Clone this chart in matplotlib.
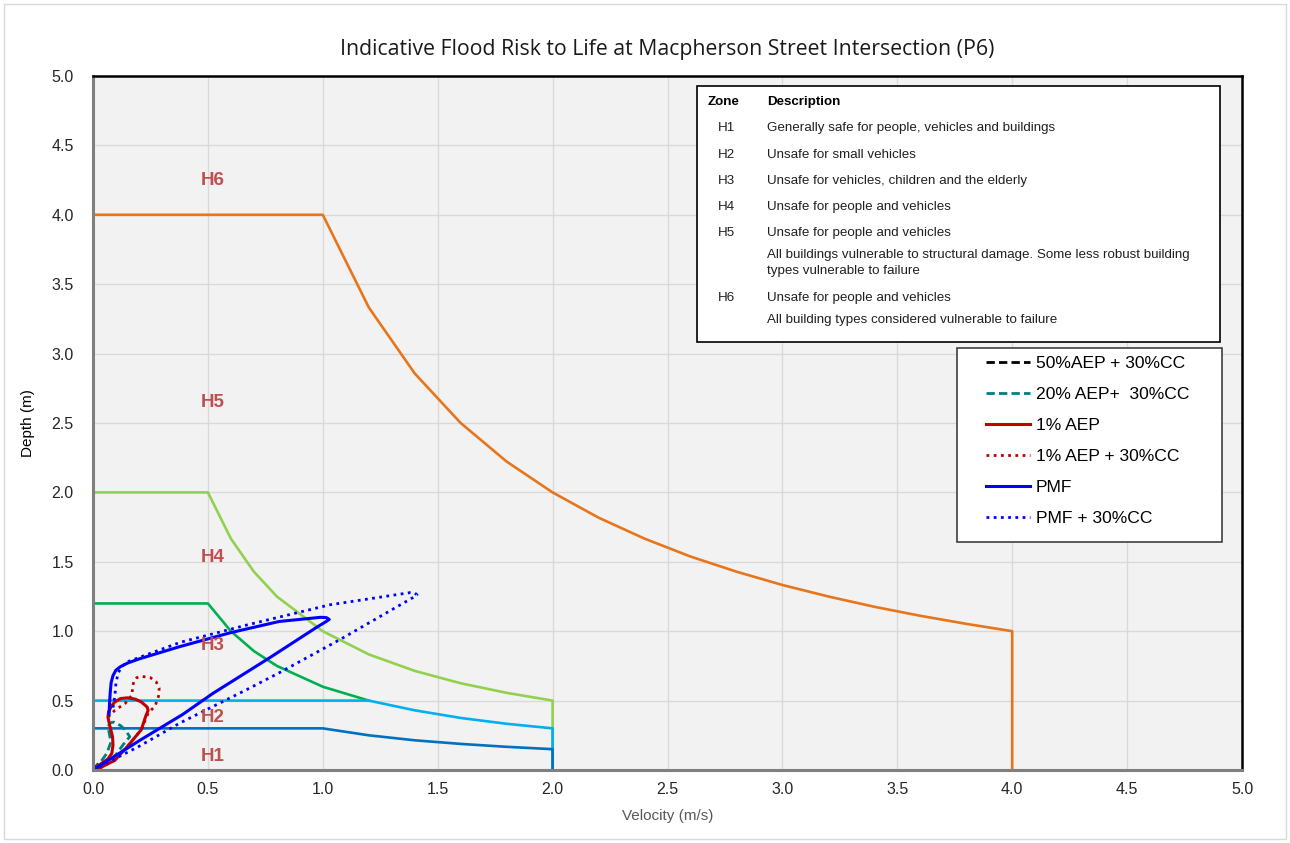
import matplotlib
matplotlib.use('Agg')
import matplotlib.pyplot as plt
from matplotlib.patches import Rectangle

# hazard boundary curves (velocity m/s, depth m)
h1_v = [0.0, 1.0, 1.2, 1.4, 1.6, 1.8, 2.0, 2.0]
h1_d = [0.30, 0.30, 0.25, 0.214, 0.188, 0.167, 0.15, 0.0]
h2_v = [0.0, 1.2, 1.4, 1.6, 1.8, 2.0, 2.0]
h2_d = [0.50, 0.50, 0.43, 0.375, 0.333, 0.30, 0.0]
h3_v = [0.0, 0.5, 0.6, 0.7, 0.8, 1.0, 1.2]
h3_d = [1.20, 1.20, 1.00, 0.857, 0.75, 0.60, 0.50]
h4_v = [0.0, 0.5, 0.6, 0.7, 0.8, 1.0, 1.2, 1.4, 1.6, 1.8, 2.0, 2.0]
h4_d = [2.0, 2.0, 1.667, 1.429, 1.25, 1.0, 0.833, 0.714, 0.625, 0.556, 0.50, 0.0]
h5_v = [0.0, 1.0, 1.2, 1.4, 1.6, 1.8, 2.0, 2.2, 2.4, 2.6, 2.8, 3.0, 3.2, 3.4, 3.6, 3.8, 4.0, 4.0]
h5_d = [4.0, 4.0, 3.333, 2.857, 2.5, 2.222, 2.0, 1.818, 1.667, 1.538, 1.429, 1.333, 1.25, 1.176, 1.111, 1.053, 1.0, 0.0]

# flood event traces
aep50_v = [0.0, 0.01, 0.02, 0.03, 0.02, 0.0]
aep50_d = [0.0, 0.02, 0.04, 0.05, 0.03, 0.0]
aep20_v = [0.0, 0.03, 0.06, 0.078, 0.07, 0.065, 0.075, 0.09, 0.12, 0.14, 0.16, 0.13, 0.10, 0.05, 0.0]
aep20_d = [0.0, 0.05, 0.12, 0.20, 0.27, 0.31, 0.34, 0.345, 0.32, 0.29, 0.24, 0.18, 0.11, 0.04, 0.0]
aep1_v = [0.0, 0.01, 0.035, 0.065, 0.082, 0.087, 0.085, 0.073, 0.065, 0.068, 0.08, 0.095, 0.12, 0.15, 0.185, 0.21, 0.235, 0.24, 0.23, 0.21, 0.15, 0.095, 0.03, 0.0]
aep1_d = [0.0, 0.01, 0.045, 0.08, 0.12, 0.18, 0.24, 0.32, 0.38, 0.42, 0.46, 0.49, 0.515, 0.52, 0.51, 0.49, 0.455, 0.43, 0.39, 0.29, 0.17, 0.07, 0.015, 0.0]
aep1cc_v = [0.065, 0.095, 0.14, 0.17, 0.172, 0.178, 0.19, 0.21, 0.25, 0.275, 0.288, 0.285, 0.27, 0.24, 0.21, 0.15, 0.095, 0.03, 0.0]
aep1cc_d = [0.38, 0.43, 0.48, 0.54, 0.60, 0.64, 0.665, 0.675, 0.665, 0.635, 0.59, 0.53, 0.46, 0.41, 0.29, 0.17, 0.07, 0.015, 0.0]
pmf_v = [0.0, 0.2, 0.39, 0.52, 0.77, 0.975, 1.015, 1.028, 1.015, 0.99, 0.81, 0.60, 0.38, 0.2, 0.15, 0.12, 0.10, 0.087, 0.079, 0.075, 0.072, 0.07]
pmf_d = [0.0, 0.21, 0.40, 0.55, 0.81, 1.03, 1.07, 1.085, 1.098, 1.10, 1.07, 0.99, 0.89, 0.80, 0.77, 0.745, 0.72, 0.68, 0.63, 0.56, 0.48, 0.40]
pmfcc_v = [0.0, 0.2, 0.38, 0.67, 0.81, 1.075, 1.39, 1.41, 1.40, 1.38, 1.03, 0.67, 0.38, 0.2, 0.15, 0.125, 0.11, 0.10, 0.095, 0.087]
pmfcc_d = [0.0, 0.17, 0.34, 0.58, 0.70, 0.94, 1.24, 1.262, 1.275, 1.278, 1.19, 1.045, 0.92, 0.81, 0.78, 0.745, 0.70, 0.63, 0.53, 0.45]

zone_labels = ['H1', 'H2', 'H3', 'H4', 'H5', 'H6']
zone_label_y = [0.10, 0.375, 0.90, 1.53, 2.65, 4.25]

table_zones = ['H1', 'H2', 'H3', 'H4', 'H5', '', '', 'H6', '']
table_desc = ['Generally safe for people, vehicles and buildings',
              'Unsafe for small vehicles',
              'Unsafe for vehicles, children and the elderly',
              'Unsafe for people and vehicles',
              'Unsafe for people and vehicles',
              'All buildings vulnerable to structural damage. Some less robust building',
              'types vulnerable to failure',
              'Unsafe for people and vehicles',
              'All building types considered vulnerable to failure']
table_row_px = [128, 155, 181, 207, 233, 255, 271, 298, 320]

W, H = 1290, 843
fig = plt.figure(figsize=(W / 100, H / 100), dpi=100)
ax = fig.add_axes([93 / W, 1 - 770 / H, (1242 - 93) / W, (770 - 76) / H])
ax.set_facecolor('#F2F2F2')

# hazard curves
ax.plot(h5_v, h5_d, color='#E8751A', lw=1.9)
ax.plot(h4_v, h4_d, color='#92D050', lw=1.9)
ax.plot(h3_v, h3_d, color='#00B050', lw=1.9)
ax.plot(h2_v, h2_d, color='#00B0F0', lw=1.9)
ax.plot(h1_v, h1_d, color='#0070C0', lw=1.9)

# flood traces
ax.plot(aep50_v, aep50_d, color='black', ls=(0, (3, 1.5)), lw=2, label='50%AEP + 30%CC')
ax.plot(aep20_v, aep20_d, color='#00807F', ls=(0, (3, 1.5)), lw=2, label='20% AEP+  30%CC')
ax.plot(aep1_v, aep1_d, color='#C00000', lw=2.2, label='1% AEP')
ax.plot(aep1cc_v, aep1cc_d, color='#C00000', ls=(0, (1, 1.6)), lw=2, label='1% AEP + 30%CC')
ax.plot(pmf_v, pmf_d, color='#0000FF', lw=2.2, label='PMF')
ax.plot(pmfcc_v, pmfcc_d, color='#0000FF', ls=(0, (1, 1.6)), lw=2, label='PMF + 30%CC')

for lab, y in zip(zone_labels, zone_label_y):
    ax.text(0.52, y, lab, color='#C0504D', fontsize=13.5, fontweight='bold',
            ha='center', va='center', family='Liberation Sans')

ax.set_xlim(0, 5)
ax.set_ylim(0, 5)
ax.set_xticks([i * 0.5 for i in range(11)])
ax.set_yticks([i * 0.5 for i in range(11)])
ax.set_xticklabels([f'{i * 0.5:.1f}' for i in range(11)], family='Liberation Sans', fontsize=11.5, color='#262626')
ax.set_yticklabels([f'{i * 0.5:.1f}' for i in range(11)], family='Liberation Sans', fontsize=11.5, color='#262626')
ax.tick_params(axis='y', length=0, pad=14)
ax.tick_params(axis='x', length=0, pad=9)
ax.grid(color='#D9D9D9', lw=1)
ax.set_axisbelow(True)
for s in ['left', 'bottom']:
    ax.spines[s].set_color('#7F7F7F')
    ax.spines[s].set_linewidth(2.2)
for s in ['top', 'right']:
    ax.spines[s].set_color('black')
    ax.spines[s].set_linewidth(1.8)

ax.set_xlabel('Velocity (m/s)', family='Liberation Sans', fontsize=11, color='#595959', labelpad=8)
ax.set_ylabel('Depth (m)', family='Liberation Sans', fontsize=11, color='black', labelpad=12)
fig.text(0.5 * (93 + 1242) / W, 1 - 50 / H, 'Indicative Flood Risk to Life at Macpherson Street Intersection (P6)',
         ha='center', va='center', fontsize=15.3, family='Open Sans', color='#1A1A1A')

# legend frame drawn separately so the entries sit indented like the original
ax.add_patch(Rectangle(((957 - 93) / 1149, (770 - 542) / 694), (1222 - 957) / 1149, (542 - 348) / 694,
                       transform=ax.transAxes, facecolor='white', edgecolor='#404040', lw=1.2, zorder=4.5))
leg = ax.legend(loc='upper left', bbox_to_anchor=((986 - 93) / 1149, (770 - 356) / 694),
                frameon=False, prop={'family': 'Liberation Sans', 'size': 12.6},
                handlelength=2.5, handletextpad=0.35, labelspacing=0.9,
                borderpad=0, borderaxespad=0)
leg.set_zorder(5)

# zone description table
fig.patches.append(Rectangle((697 / W, 1 - 342 / H), (1220 - 697) / W, (342 - 86) / H,
                             transform=fig.transFigure, facecolor='white', edgecolor='black', lw=1.2, zorder=5))
fig.text(708 / W, 1 - 102 / H, 'Zone', fontsize=9.6, fontweight='bold', family='Liberation Sans', va='center', zorder=6)
fig.text(767 / W, 1 - 102 / H, 'Description', fontsize=9.6, fontweight='bold', family='Liberation Sans', va='center', zorder=6)
for z, d, y in zip(table_zones, table_desc, table_row_px):
    fig.text(718 / W, 1 - y / H, z, fontsize=9.6, family='Liberation Sans', va='center', zorder=6, color='#202020')
    fig.text(767 / W, 1 - y / H, d, fontsize=9.6, family='Liberation Sans', va='center', zorder=6, color='#202020')

# faint outer chart border
fig.patches.append(Rectangle((4 / W, 4 / H), (W - 8) / W, (H - 8) / H, transform=fig.transFigure,
                             facecolor='none', edgecolor='#D9D9D9', lw=1))

fig.savefig('out.png', dpi=100, facecolor='white')
